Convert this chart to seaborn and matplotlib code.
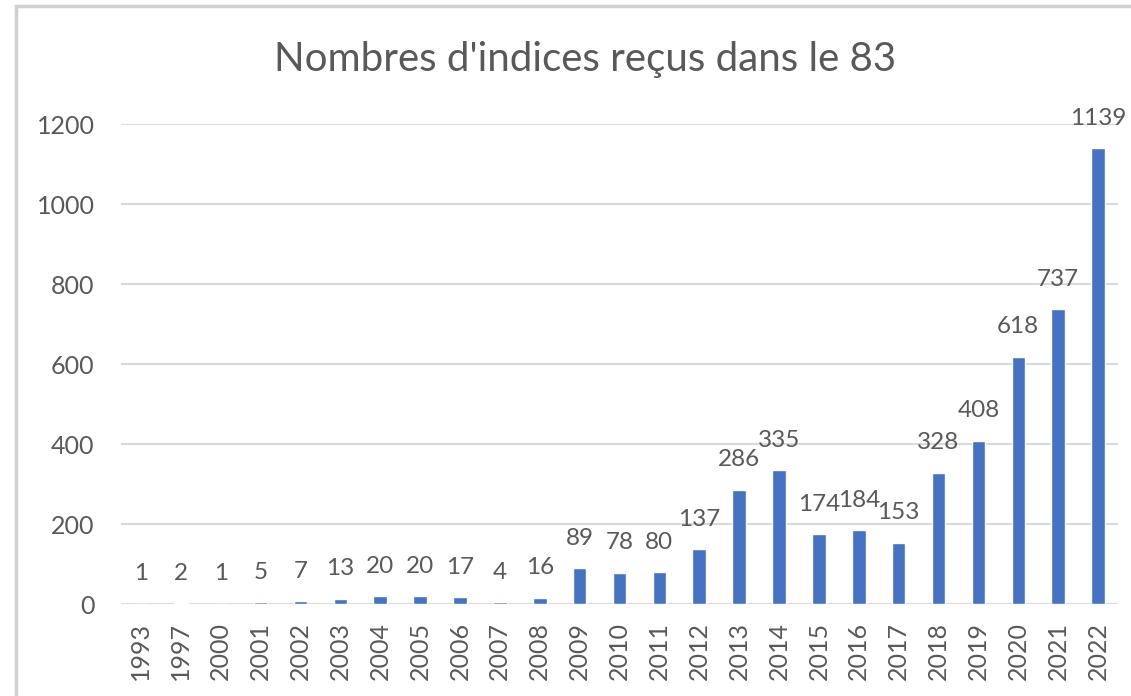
import matplotlib
matplotlib.use("Agg")
import matplotlib.pyplot as plt
import matplotlib.patches as mpatches
import seaborn as sns
import pandas as pd

# ----------------------------------------------
# Data
# ----------------------------------------------
YEARS  = ["1993", "1997", "2000", "2001", "2002", "2003", "2004", "2005", "2006",
          "2007", "2008", "2009", "2010", "2011", "2012", "2013", "2014", "2015",
          "2016", "2017", "2018", "2019", "2020", "2021", "2022"]
COUNTS = [1, 2, 1, 5, 7, 13, 20, 20, 17, 4, 16, 89, 78, 80, 137, 286, 335, 174,
          184, 153, 328, 408, 618, 737, 1139]
Y_TICKS = [0, 200, 400, 600, 800, 1000, 1200]
TITLE   = "Nombres d'indices reçus dans le 83"

TEXT_COLOR = "#595959"
BAR_COLOR  = "#4472C4"
GRID_COLOR = "#D9D9D9"

sns.set_theme(style="white")
plt.rcParams["font.family"] = ["Lato", "DejaVu Sans"]

df = pd.DataFrame({"annee": YEARS, "n": COUNTS})

fig = plt.figure(figsize=(11.31, 6.96), dpi=100)
fig.patch.set_facecolor("white")

# chart border (Excel-style frame, cropped on right/bottom)
fig.patches.append(mpatches.Rectangle(
    (16 / 1131, -0.05), 1.2, 0.05 + 1 - 6 / 696,
    transform=fig.transFigure, fill=False, edgecolor="#D0D0D0", lw=2.5))

ax = fig.add_axes([121 / 1131, 92 / 696, (1118 - 121) / 1131, 480 / 696])

sns.barplot(data=df, x="annee", y="n", color=BAR_COLOR, width=0.34,
            saturation=1, ax=ax)

for i, v in enumerate(COUNTS):
    ax.annotate(str(v), (i, v), xytext=(0, 14), textcoords="offset points",
                ha="center", va="bottom", fontsize=17.5, color=TEXT_COLOR)

ax.set_ylim(0, 1200)
ax.set_yticks(Y_TICKS)
ax.set_xlim(-0.5, len(YEARS) - 0.5)
ax.yaxis.grid(True, color=GRID_COLOR, lw=1.5)
ax.set_axisbelow(True)
for s in ax.spines.values():
    s.set_visible(False)

ax.tick_params(axis="x", labelrotation=90, labelsize=18, labelcolor=TEXT_COLOR,
               length=0, pad=13)
ax.tick_params(axis="y", labelsize=18, labelcolor=TEXT_COLOR, length=0, pad=19)
ax.set_xlabel("")
ax.set_ylabel("")

fig.text(0.5 + 20 / 1131, 1 - 60 / 696, TITLE, ha="center", va="center",
         fontsize=29, color=TEXT_COLOR)

fig.savefig("out.png", dpi=100)
